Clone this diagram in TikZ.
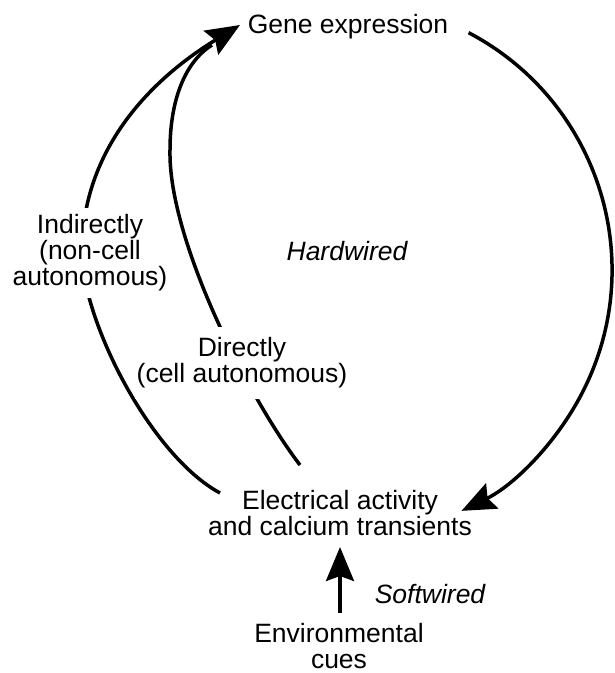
\documentclass[tikz,border=0pt]{standalone}
\usepackage{fontspec}
\setmainfont{Liberation Sans}
\usetikzlibrary{arrows.meta}
\tikzset{
  lbl/.style={font=\fontsize{26.5}{26}\selectfont, align=center, inner sep=0pt},
  itlbl/.style={lbl, font=\fontsize{26.5}{26}\selectfont\itshape},
  gaplbl/.style={lbl, fill=white, inner xsep=2pt},
  conn/.style={line width=3.5pt, draw=black},
  arr/.style={conn, -{Stealth[length=34pt,width=28pt,inset=5pt]}},
}
\begin{document}
\begin{tikzpicture}[x=1pt,y=-1pt]
\useasboundingbox (0,0) rectangle (615,673);
% free ends of the connectors
\coordinate (outerStart) at (220,493);
\coordinate (outerMid) at (82,252);
\coordinate (innerStart) at (300,465);
\coordinate (innerMid) at (170,150);
\coordinate (tipTop) at (240,25);
\coordinate (innerEnd) at (212,45);
\coordinate (rightStart) at (468.6,32.7);
\coordinate (envTop) at (340,613);
\coordinate (elecBottom) at (340,547);
% connectors
\draw[arr] (outerStart) .. controls (150,455) and (82,320) .. (outerMid)
                         .. controls (82,150) and (150,80) .. (tipTop);
\draw[conn] (innerStart) .. controls (250,400) and (168,240) .. (innerMid)
                          .. controls (170,100) and (185,62) .. (innerEnd);
\draw[arr] (rightStart) arc[start angle=-62.3, end angle=64, radius=268];
\draw[arr] (envTop) -- (elecBottom);
% labels
\node[lbl, anchor=base] (gene) at (348,33) {Gene expression};
\node[itlbl, anchor=base] (hard) at (347,260) {Hardwired};
\node[gaplbl, inner ysep=7pt] (indir) at (90,253) {Indirectly\\(non-cell\\autonomous)};
\node[gaplbl, inner ysep=11pt] (dir) at (242,363) {Directly\\(cell autonomous)};
\node[lbl] (elec) at (340,513) {Electrical activity\\and calcium transients};
\node[itlbl, anchor=base] (soft) at (430,603) {Softwired};
\node[lbl] (env) at (339,646) {Environmental\\cues};
\end{tikzpicture}
\end{document}
